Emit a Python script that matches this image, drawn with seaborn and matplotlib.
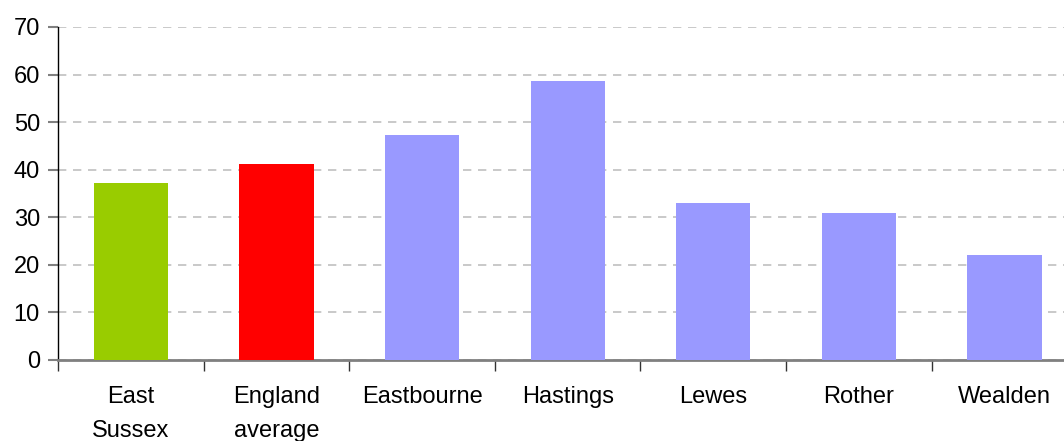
import numpy as np
import pandas as pd
import matplotlib
matplotlib.use("Agg")
import matplotlib.pyplot as plt
import seaborn as sns

# values
areas = ["East\nSussex", "England\naverage", "Eastbourne", "Hastings", "Lewes", "Rother", "Wealden"]
values = [37.2, 41.2, 47.3, 58.7, 33.0, 30.9, 22.1]
bar_colors = ["#99cc00", "#ff0000", "#9999ff", "#9999ff", "#9999ff", "#9999ff", "#9999ff"]

df = pd.DataFrame({"area": areas, "value": values})

sns.set_style("white")
plt.rcParams["font.family"] = ["Liberation Sans", "DejaVu Sans"]

fig = plt.figure(figsize=(10.64, 4.41), dpi=100)
# plot area runs slightly past the right edge, as in the reference
ax = fig.add_axes([0.0545, 0.1837, 0.958, 0.7551])

sns.barplot(data=df, x="area", y="value", hue="area", palette=bar_colors,
            width=0.51, saturation=1, linewidth=0, legend=False, ax=ax, zorder=3)

ax.set_ylim(0, 70)
ax.set_xlim(-0.5, len(areas) - 0.5)
ax.set_yticks(np.arange(0, 71, 10))
ax.set_xlabel("")
ax.set_ylabel("")

# dashed gridlines
ax.yaxis.grid(True, linestyle=(0, (5, 4)), color="#c0c0c0", linewidth=1.2, zorder=0)
ax.set_axisbelow(True)

# category boundary ticks (Excel style)
ax.set_xticks(np.arange(-0.5, len(areas), 1.0), minor=True)
ax.tick_params(axis="x", which="major", bottom=True, length=0, pad=19, labelsize=17, colors="black")
ax.tick_params(axis="x", which="minor", bottom=True, length=8, width=1, color="#333333", direction="out")
ax.tick_params(axis="y", left=True, length=7, width=1.5, color="#808080", labelsize=17,
               labelcolor="black", pad=6, direction="out")
for lbl in ax.get_xticklabels():
    lbl.set_linespacing(1.7)

for side in ["top", "right"]:
    ax.spines[side].set_visible(False)
ax.spines["left"].set_color("black")
ax.spines["left"].set_linewidth(1.0)
ax.spines["bottom"].set_color("#808080")
ax.spines["bottom"].set_linewidth(2.0)

fig.savefig("out.png", dpi=100)
